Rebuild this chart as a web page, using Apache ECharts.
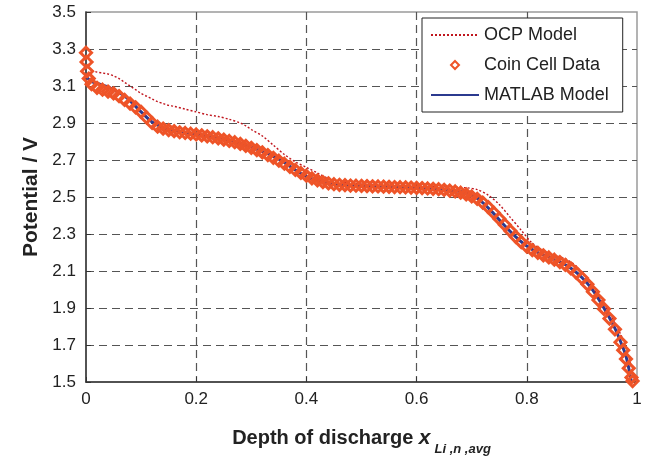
<!DOCTYPE html>
<html>
<head>
<meta charset="utf-8">
<title>Potential vs depth of discharge</title>
<script src="https://cdn.jsdelivr.net/npm/echarts@6/dist/echarts.min.js"></script>
<style>
  html, body { margin: 0; padding: 0; background: #fff; }
  #main { width: 651px; height: 456px; }
</style>
</head>
<body>
<div id="main"></div>
<script>
// axis ticks
var xTicks = [0, 0.2, 0.4, 0.6, 0.8, 1];
var yTicks = [1.5, 1.7, 1.9, 2.1, 2.3, 2.5, 2.7, 2.9, 3.1, 3.3, 3.5];

// coin cell data (depth of discharge, potential)
var cellX = [0, 0.001, 0.002, 0.005, 0.01, 0.02, 0.03, 0.04, 0.05, 0.06, 0.07, 0.08, 0.09,
  0.10, 0.11, 0.12, 0.13, 0.14, 0.15, 0.16, 0.17, 0.18, 0.19,
  0.20, 0.21, 0.22, 0.23, 0.24, 0.25, 0.26, 0.27, 0.28, 0.29,
  0.30, 0.31, 0.32, 0.33, 0.34, 0.35, 0.36, 0.37, 0.38, 0.39,
  0.40, 0.41, 0.42, 0.43, 0.44, 0.45, 0.46, 0.47, 0.48, 0.49,
  0.50, 0.51, 0.52, 0.53, 0.54, 0.55, 0.56, 0.57, 0.58, 0.59,
  0.60, 0.61, 0.62, 0.63, 0.64, 0.65, 0.66, 0.67, 0.68, 0.69,
  0.70, 0.71, 0.72, 0.73, 0.74, 0.75, 0.76, 0.77, 0.78, 0.79,
  0.80, 0.81, 0.82, 0.83, 0.84, 0.85, 0.86, 0.87, 0.88, 0.89,
  0.90, 0.91, 0.92, 0.93, 0.94, 0.95, 0.96, 0.97, 0.975, 0.98, 0.985, 0.99, 0.992];
var cellV = [3.28, 3.23, 3.18, 3.14, 3.11, 3.09, 3.08, 3.07, 3.06, 3.045, 3.025, 3.005, 2.985,
  2.96, 2.93, 2.90, 2.88, 2.87, 2.862, 2.856, 2.85, 2.846, 2.842,
  2.838, 2.833, 2.828, 2.823, 2.817, 2.81, 2.803, 2.796, 2.787, 2.777,
  2.766, 2.754, 2.741, 2.727, 2.712, 2.696, 2.68, 2.663, 2.646, 2.63,
  2.615, 2.601, 2.59, 2.581, 2.574, 2.569, 2.566, 2.564, 2.562, 2.561,
  2.56, 2.559, 2.558, 2.557, 2.556, 2.555, 2.554, 2.553, 2.552, 2.551,
  2.549, 2.548, 2.546, 2.544, 2.542, 2.539, 2.535, 2.53, 2.523, 2.514,
  2.503, 2.49, 2.47, 2.445, 2.415, 2.383, 2.35, 2.317, 2.285, 2.256,
  2.232, 2.213, 2.198, 2.185, 2.173, 2.161, 2.148, 2.133, 2.114, 2.09,
  2.062, 2.028, 1.988, 1.943, 1.895, 1.843, 1.785, 1.715, 1.672, 1.625, 1.575, 1.525, 1.505];

// OCP model
var ocpX = [0.005, 0.01, 0.02, 0.03, 0.04, 0.05, 0.06, 0.07, 0.08, 0.09, 0.10, 0.11, 0.12, 0.13, 0.14,
  0.15, 0.16, 0.18, 0.20, 0.22, 0.24, 0.26, 0.28, 0.29, 0.30, 0.32, 0.34, 0.36, 0.38, 0.40,
  0.42, 0.44, 0.46, 0.48, 0.50, 0.55, 0.60, 0.65, 0.69, 0.71, 0.73, 0.75, 0.77, 0.79, 0.81,
  0.83, 0.85, 0.87, 0.89, 0.91, 0.93, 0.95, 0.97, 0.98, 0.99];
var ocpV = [3.20, 3.185, 3.175, 3.17, 3.165, 3.155, 3.14, 3.12, 3.10, 3.08, 3.06, 3.045, 3.03, 3.015, 3.005,
  2.995, 2.99, 2.975, 2.96, 2.945, 2.935, 2.92, 2.90, 2.885, 2.865, 2.83, 2.78, 2.73, 2.69, 2.66,
  2.63, 2.60, 2.585, 2.575, 2.57, 2.565, 2.56, 2.555, 2.55, 2.54, 2.51, 2.46, 2.39, 2.32, 2.25,
  2.21, 2.185, 2.165, 2.125, 2.05, 1.965, 1.87, 1.76, 1.69, 1.58];

// MATLAB model
var matX = [0, 0.01, 0.02, 0.03, 0.04, 0.05, 0.06, 0.07, 0.08, 0.09, 0.10, 0.12, 0.14, 0.16,
  0.20, 0.25, 0.30, 0.35, 0.40, 0.45, 0.50, 0.60, 0.68, 0.70, 0.72, 0.74, 0.76, 0.78, 0.80,
  0.82, 0.84, 0.86, 0.88, 0.90, 0.92, 0.94, 0.96, 0.97, 0.98, 0.99];
var matV = [3.15, 3.125, 3.115, 3.105, 3.095, 3.08, 3.065, 3.045, 3.02, 2.99, 2.96, 2.905, 2.875, 2.86,
  2.84, 2.815, 2.77, 2.705, 2.61, 2.57, 2.56, 2.55, 2.53, 2.51, 2.47, 2.41, 2.345, 2.285, 2.235,
  2.2, 2.175, 2.15, 2.115, 2.065, 1.995, 1.90, 1.79, 1.72, 1.64, 1.50];

function pairs(xs, vs) {
  var out = [];
  for (var i = 0; i < xs.length; i++) {
    out.push([xs[i], vs[i]]);
  }
  return out;
}

var font = 'Liberation Sans, Arial, sans-serif';
var gridDash = { type: [8, 5], color: '#555', width: 1.2 };
var cellColor = '#EE5428';

var chart = echarts.init(document.getElementById('main'));
chart.setOption({
  animation: false,
  backgroundColor: '#fff',
  grid: {
    left: 86, right: 14, top: 12, bottom: 74,
    outerBoundsMode: 'none',
    show: true, borderColor: '#9a9a9a', borderWidth: 1.5
  },
  legend: {
    orient: 'vertical',
    left: 422, top: 18,
    backgroundColor: '#fff',
    borderColor: '#222', borderWidth: 1,
    padding: [8, 14, 8, 8],
    itemGap: 12,
    itemWidth: 48, itemHeight: 10,
    textStyle: { fontSize: 18, color: '#222', fontFamily: font },
    data: [
      { name: 'OCP Model', itemStyle: { opacity: 0 } },
      { name: 'Coin Cell Data', itemStyle: { color: '#fff', borderColor: cellColor, borderWidth: 2 } },
      { name: 'MATLAB Model', itemStyle: { opacity: 0 } }
    ]
  },
  xAxis: {
    type: 'value',
    min: xTicks[0], max: xTicks[xTicks.length - 1], interval: xTicks[1] - xTicks[0],
    axisLine: { show: true, onZero: false, lineStyle: { color: '#333', width: 1.5 } },
    axisTick: { inside: true, length: 5, lineStyle: { color: '#333' } },
    axisLabel: { fontSize: 17, color: '#222', margin: 9, fontFamily: font },
    splitLine: { show: true, showMinLine: false, showMaxLine: false, lineStyle: gridDash },
    name: '{a|Depth of discharge }{b|x}{c|Li ,n ,avg}',
    nameLocation: 'middle',
    nameGap: 38,
    nameTextStyle: {
      rich: {
        a: { fontSize: 20, fontWeight: 'bold', color: '#222', fontFamily: font, lineHeight: 26, verticalAlign: 'middle' },
        b: { fontSize: 21, fontWeight: 'bold', fontStyle: 'italic', color: '#222', fontFamily: font, lineHeight: 26, verticalAlign: 'middle' },
        c: { fontSize: 13, fontWeight: 'bold', fontStyle: 'italic', color: '#222', fontFamily: font, lineHeight: 36, verticalAlign: 'bottom', padding: [0, 0, 0, 4] }
      }
    }
  },
  yAxis: {
    type: 'value',
    min: yTicks[0], max: yTicks[yTicks.length - 1], interval: 0.2,
    axisLine: { show: true, onZero: false, lineStyle: { color: '#333', width: 1.5 } },
    axisTick: { inside: true, length: 5, lineStyle: { color: '#333' } },
    axisLabel: { fontSize: 17, color: '#222', margin: 10, fontFamily: font },
    splitLine: { show: true, showMinLine: false, showMaxLine: false, lineStyle: gridDash },
    name: 'Potential / V',
    nameLocation: 'middle',
    nameRotate: 90,
    nameGap: 35,
    nameTextStyle: { fontSize: 21, fontWeight: 'bold', color: '#222', fontFamily: font }
  },
  series: [
    {
      name: 'OCP Model',
      type: 'line',
      z: 3,
      symbol: 'none',
      smooth: 0.3,
      lineStyle: { color: '#C0161E', width: 1.4, type: [2, 2] },
      itemStyle: { color: '#C0161E' },
      data: pairs(ocpX, ocpV)
    },
    {
      name: 'Coin Cell Data',
      type: 'line',
      z: 4,
      symbol: 'diamond',
      symbolSize: 11,
      showSymbol: true,
      lineStyle: { width: 0, opacity: 0 },
      itemStyle: { color: 'rgba(255,255,255,0)', borderColor: cellColor, borderWidth: 3 },
      data: pairs(cellX, cellV)
    },
    {
      name: 'MATLAB Model',
      type: 'line',
      z: 2,
      symbol: 'none',
      smooth: 0.3,
      lineStyle: { color: '#2B3A8F', width: 3 },
      itemStyle: { color: '#2B3A8F' },
      data: pairs(matX, matV)
    }
  ]
});
</script>
</body>
</html>
